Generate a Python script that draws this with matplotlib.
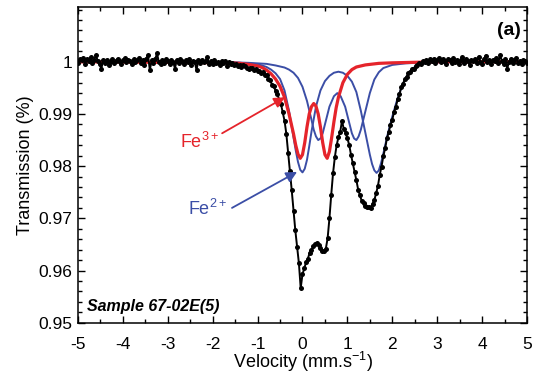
import numpy as np
import matplotlib
matplotlib.use('Agg')
import matplotlib.pyplot as plt
from matplotlib.ticker import MultipleLocator, FixedLocator

plt.rcParams['font.family'] = ['Liberation Sans', 'DejaVu Sans']
plt.rcParams['mathtext.fontset'] = 'custom'
plt.rcParams['mathtext.rm'] = 'Liberation Sans'
plt.rcParams['mathtext.it'] = 'Liberation Sans:italic'
plt.rcParams['mathtext.bf'] = 'Liberation Sans:bold'
plt.rcParams['axes.unicode_minus'] = False

# ---------------- data ----------------
v_start = -5.0
v_step = 0.04

trans_left = [
    0.9998, 1.0005, 1.0003, 1.0008, 0.9996, 1.0006, 1.0002, 1.0009, 0.9997, 1.0004,
    1.0013, 1.0001, 0.9995, 0.9987, 1.0003, 0.9998, 1.0004, 0.9994, 1.0000, 1.0005,
    0.9997, 1.0002, 1.0006, 1.0001, 0.9996, 1.0003, 1.0007, 0.9999, 1.0004, 1.0002,
    0.9995, 1.0005, 1.0000, 1.0003, 1.0008, 0.9998, 1.0004, 0.9994, 1.0006, 1.0013,
    0.9984, 1.0003, 0.9997, 1.0005, 1.0016, 1.0000, 0.9996, 1.0004, 0.9998, 1.0006,
    1.0001, 0.9995, 1.0003, 1.0000, 0.9987, 1.0004, 0.9998, 1.0005, 1.0002, 0.9996,
    1.0003, 0.9999, 1.0006, 0.9994, 1.0002, 1.0000, 0.9984, 1.0003, 0.9997, 1.0004,
    0.9999, 1.0002, 1.0009, 0.9996, 1.0001, 0.9995, 1.0003, 0.9998, 1.0000, 0.9994,
    1.0002, 0.9997, 1.0001, 0.9992, 0.9999, 0.9995, 0.9998, 0.9993, 0.9996, 0.9992,
    0.9994, 0.9990, 0.9993, 0.9991, 0.9989,
]
trans_dip = [
    0.9987, 0.9988, 0.9989, 0.9984, 0.9986, 0.9982, 0.9983, 0.9979, 0.9980, 0.9974,
    0.9975, 0.9967, 0.9965, 0.9956, 0.9954, 0.9944, 0.9939, 0.9927, 0.9919, 0.9903,
    0.9887, 0.9862, 0.9825, 0.9790, 0.9754, 0.9715, 0.9677, 0.9645, 0.9614, 0.9566,
    0.9593, 0.9604, 0.9616, 0.9623, 0.9634, 0.9639, 0.9647, 0.9650, 0.9652, 0.9648,
    0.9644, 0.9637, 0.9638, 0.9642, 0.9662, 0.9700, 0.9745, 0.9786, 0.9817, 0.9840,
    0.9855, 0.9866, 0.9887, 0.9871, 0.9864, 0.9853, 0.9841, 0.9822, 0.9806, 0.9789,
    0.9773, 0.9755, 0.9744, 0.9733, 0.9729, 0.9723, 0.9721, 0.9722, 0.9720, 0.9728,
    0.9735, 0.9748, 0.9762, 0.9783, 0.9799, 0.9819, 0.9834, 0.9853, 0.9865, 0.9879,
    0.9889, 0.9904, 0.9914, 0.9928, 0.9938, 0.9951, 0.9958, 0.9967, 0.9971, 0.9978,
    0.9980, 0.9986, 0.9987, 0.9992, 0.9993, 0.9997, 0.9996, 1.0001, 0.9999,
]
trans_right = [
    1.0003, 0.9998, 1.0005, 1.0001, 1.0006, 0.9997, 1.0004, 1.0008, 0.9999, 1.0005,
    1.0002, 0.9996, 1.0006, 1.0003, 0.9998, 1.0007, 1.0000, 1.0004, 0.9995, 1.0003,
    1.0009, 0.9998, 1.0005, 1.0001, 0.9994, 1.0004, 1.0002, 1.0006, 0.9997, 1.0010,
    1.0000, 0.9996, 1.0005, 1.0012, 0.9999, 1.0003, 0.9995, 1.0004, 1.0001, 1.0007,
    0.9997, 1.0013, 1.0002, 0.9996, 1.0005, 0.9987, 1.0000, 1.0006, 0.9998, 1.0004,
    1.0008, 0.9997, 1.0002, 0.9995, 1.0004, 1.0001, 0.9998,
]

# Fe3+ doublet (red)
red_v = [-5.0, -1.6, -1.4, -1.2, -1.0, -0.9, -0.8, -0.7, -0.6, -0.5,
         -0.4, -0.3, -0.2, -0.15, -0.1, -0.05, 0.0, 0.05, 0.1, 0.15,
         0.2, 0.25, 0.3, 0.35, 0.4, 0.45, 0.5, 0.55, 0.6, 0.65,
         0.7, 0.75, 0.8, 0.9, 1.0, 1.1, 1.2, 1.4, 1.7, 2.0,
         2.5, 3.0, 5.0]
red_t = [1.0, 0.9998, 0.9997, 0.9995, 0.9992, 0.9989, 0.9984, 0.9977, 0.9967, 0.9953,
         0.9932, 0.9900, 0.9862, 0.9840, 0.9823, 0.9815, 0.9822, 0.9845, 0.9875, 0.9900,
         0.9914, 0.9920, 0.9915, 0.9900, 0.9875, 0.9845, 0.9822, 0.9815, 0.9828, 0.9855,
         0.9885, 0.9912, 0.9932, 0.9960, 0.9976, 0.9985, 0.9990, 0.9994, 0.9997, 0.9998,
         0.9999, 1.0, 1.0]

# Fe2+ doublet A (blue, wide splitting)
blueA_v = [-5.0, -1.6, -1.4, -1.2, -1.0, -0.9, -0.8, -0.7, -0.6, -0.5,
           -0.4, -0.3, -0.2, -0.15, -0.1, -0.05, 0.0, 0.05, 0.1, 0.15,
           0.2, 0.3, 0.4, 0.5, 0.6, 0.7, 0.8, 0.9, 1.0, 1.1,
           1.2, 1.3, 1.4, 1.45, 1.5, 1.55, 1.6, 1.65, 1.7, 1.75,
           1.8, 1.9, 2.0, 2.1, 2.2, 2.3, 2.4, 2.5, 2.6, 2.8,
           3.0, 5.0]
blueA_t = [1.0, 0.9999, 0.9998, 0.9997, 0.9995, 0.9993, 0.9990, 0.9985, 0.9978, 0.9967,
           0.9945, 0.9906, 0.9855, 0.9830, 0.9808, 0.9793, 0.9788, 0.9795, 0.9812, 0.9838,
           0.9866, 0.9914, 0.9945, 0.9963, 0.9973, 0.9979, 0.9981, 0.9979, 0.9973, 0.9962,
           0.9942, 0.9906, 0.9864, 0.9843, 0.9822, 0.9804, 0.9792, 0.9787, 0.9792, 0.9806,
           0.9824, 0.9862, 0.9895, 0.9925, 0.9950, 0.9969, 0.9982, 0.9990, 0.9995, 0.9998,
           0.9999, 1.0]

# Fe2+ doublet B (blue, narrow splitting)
blueB_v = [-5.0, -1.6, -1.2, -0.8, -0.6, -0.4, -0.3, -0.2, -0.1, 0.0,
           0.1, 0.2, 0.25, 0.3, 0.35, 0.4, 0.45, 0.5, 0.6, 0.7,
           0.775, 0.85, 0.95, 1.05, 1.1, 1.15, 1.2, 1.25, 1.3, 1.4,
           1.5, 1.6, 1.7, 1.8, 2.0, 2.3, 2.8, 5.0]
blueB_t = [1.0, 0.9999, 0.9998, 0.9996, 0.9993, 0.9989, 0.9985, 0.9979, 0.9969, 0.9952,
           0.9925, 0.9889, 0.9870, 0.9857, 0.9850, 0.9853, 0.9863, 0.9880, 0.9914, 0.9934,
           0.9940, 0.9934, 0.9914, 0.9880, 0.9863, 0.9853, 0.9850, 0.9857, 0.9870, 0.9905,
           0.9940, 0.9966, 0.9980, 0.9988, 0.9994, 0.9997, 0.9999, 1.0]

x_ticks = [-5, -4, -3, -2, -1, 0, 1, 2, 3, 4, 5]
y_ticks = [0.95, 0.96, 0.97, 0.98, 0.99, 1.0]
y_tick_labels = ['0.95', '0.96', '0.97', '0.98', '0.99', '1']

# ---------------- plot ----------------
transmission = np.array(trans_left + trans_dip + trans_right)
velocity = v_start + v_step * np.arange(len(transmission))

RED = '#e5242b'
BLUE = '#3b4ea6'

fig = plt.figure(figsize=(5.36, 3.78), dpi=100)
ax = fig.add_axes([0.1455, 0.1463, 0.8377, 0.8352])

ax.plot(blueA_v, blueA_t, color=BLUE, lw=1.4, zorder=2)
ax.plot(blueB_v, blueB_t, color=BLUE, lw=1.4, zorder=2)
ax.plot(red_v, red_t, color=RED, lw=2.3, zorder=3)
ax.plot(velocity, transmission, color='black', lw=1.4, zorder=4)
ax.plot(velocity, transmission, 'o', color='black', ms=3.6, mec='black', mew=0, zorder=5)

ax.set_xlim(-5, 5)
ax.set_ylim(0.95, 1.0105)
ax.xaxis.set_major_locator(FixedLocator(x_ticks))
ax.xaxis.set_minor_locator(MultipleLocator(0.5))
ax.yaxis.set_major_locator(FixedLocator(y_ticks))
ax.yaxis.set_minor_locator(MultipleLocator(0.002))
ax.set_xticklabels([str(t) for t in x_ticks])
ax.set_yticklabels(y_tick_labels)

ax.tick_params(which='both', direction='in', top=True, right=True, width=1.0)
ax.tick_params(which='major', length=5)
ax.tick_params(which='minor', length=3)
ax.tick_params(axis='x', which='major', labelsize=12.5, pad=10)
ax.tick_params(axis='y', which='major', labelsize=12.5, pad=4)
for s in ax.spines.values():
    s.set_linewidth(1.1)

ax.set_xlabel('Velocity (mm.s$^{\\mathregular{-1}}$)', fontsize=13, labelpad=-1)
ax.set_ylabel('Transmission (%)', fontsize=13, labelpad=3)

ax.text(0.987, 0.927, '(a)', transform=ax.transAxes, ha='right', va='center',
        fontsize=14, fontweight='bold')
ax.text(0.02, 0.05, 'Sample 67-02E(5)', transform=ax.transAxes, ha='left', va='center',
        fontsize=11.5, fontweight='bold', fontstyle='italic')

ax.text(-1.86, 0.9846, 'Fe$^{\\mathregular{3+}}$', color=RED, fontsize=13,
        ha='right', va='center')
ax.annotate('', xy=(-0.39, 0.9932), xytext=(-1.79, 0.9863),
            arrowprops=dict(arrowstyle='-|>', color=RED, lw=1.3,
                            mutation_scale=16, shrinkA=0, shrinkB=0), zorder=6)
ax.text(-1.68, 0.9718, 'Fe$^{\\mathregular{2+}}$', color=BLUE, fontsize=13,
        ha='right', va='center')
ax.annotate('', xy=(-0.12, 0.9789), xytext=(-1.57, 0.9720),
            arrowprops=dict(arrowstyle='-|>', color=BLUE, lw=1.3,
                            mutation_scale=16, shrinkA=0, shrinkB=0), zorder=6)

fig.savefig('out.png', dpi=100)
